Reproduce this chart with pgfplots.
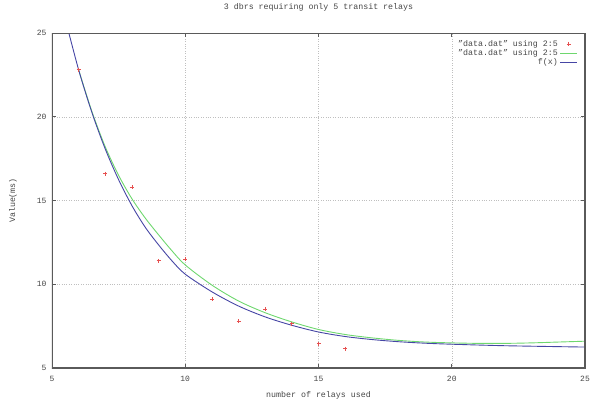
\documentclass[border=0pt]{standalone}
\usepackage{pgfplots}
\pgfplotsset{compat=1.18}
\usepackage{fontspec}
\setmainfont{Liberation Mono}

\definecolor{ptred}{RGB}{230,80,80}
\definecolor{fitgreen}{RGB}{110,215,110}
\definecolor{fitblue}{RGB}{70,70,165}
\definecolor{frame}{RGB}{90,90,90}
\definecolor{txt}{RGB}{70,70,70}

\begin{document}
\begin{tikzpicture}
\begin{axis}[
  scale only axis,
  width=533pt, height=335pt,
  xmin=5, xmax=25, ymin=5, ymax=25,
  xtick={5,10,15,20,25}, ytick={5,10,15,20,25},
  grid=major,
  major grid style={dotted, gray!50},
  axis line style={draw=frame},
  tick style={draw=frame, line width=0.8pt},
  major tick length=4pt,
  tick align=inside,
  /pgf/number format/assume math mode=true,
  ticklabel style={font=\fontsize{8}{9}\selectfont, text=txt},
  xticklabel style={yshift=-5pt},
  yticklabel style={xshift=-2pt},
  title={3 dbrs requiring only 5 transit relays},
  title style={at={(rel axis cs:0.5,1)}, anchor=base, yshift=18pt,
               font=\fontsize{8.3}{9}\selectfont, text=txt},
  xlabel={number of relays used},
  every axis x label/.style={at={(rel axis cs:0.5,0)}, anchor=base, yshift=-29pt,
               font=\fontsize{8.3}{9}\selectfont, text=txt},
  ylabel={Value(ms)},
  every axis y label/.style={at={(rel axis cs:0,0.5)}, xshift=-39pt, rotate=90, anchor=center,
               font=\fontsize{8.3}{9}\selectfont, text=txt},
  legend plot pos=right,
  legend cell align=right,
  legend style={at={(rel axis cs:1,1)}, anchor=north east, xshift=-4pt, yshift=-3pt,
               draw=none, fill=none, font=\fontsize{8.3}{9}\selectfont, text=txt,
               row sep=-2.5pt},
]
% measured values
\addplot[only marks, mark=+, mark size=2pt, color=ptred,
         mark options={draw=ptred, solid, line width=0.8pt}]
  coordinates {
  (6,22.8) (7,16.6) (8,15.8) (9,11.4) (10,11.5) (11,9.1)
  (12,7.8) (13,8.5) (14,7.65) (15,6.45) (16,6.15)
};
\addlegendentry{"data.dat" using 2:5}

% fitted curve through the data file
\addplot[fitgreen, line width=0.9pt, smooth] coordinates {
  (6,22.8) (6.5,20.3) (7,18.2) (7.5,16.5) (8,15.1) (8.5,13.95) (9,12.95)
  (9.5,12.0) (10,11.15) (11,9.95) (12,9.0) (13,8.3) (14,7.75) (15,7.3)
  (16,7.0) (17,6.8) (18,6.65) (19,6.55) (20,6.5) (21,6.47) (22,6.47)
  (23,6.5) (24,6.55) (25,6.6)
};
\addlegendentry{"data.dat" using 2:5}

% model function
\addplot[fitblue, line width=0.9pt, smooth] coordinates {
  (5.5,25.82) (6,22.8) (6.5,20.24) (7,18.07) (7.5,16.24) (8,14.69) (8.5,13.4)
  (9,12.35) (9.5,11.4) (10,10.6) (11,9.55) (12,8.7) (13,8.05) (14,7.55)
  (15,7.15) (16,6.88) (17,6.7) (18,6.57) (19,6.48) (20,6.42) (22,6.33)
  (25,6.25)
};
\addlegendentry{f(x)}

% heavy frame around the plot area
\draw[frame, line width=1.6pt] (rel axis cs:0,0) rectangle (rel axis cs:1,1);
\end{axis}
\pgfresetboundingbox
\path[use as bounding box] (-52pt,-37pt) rectangle (540pt,368pt);
\end{tikzpicture}
\end{document}
